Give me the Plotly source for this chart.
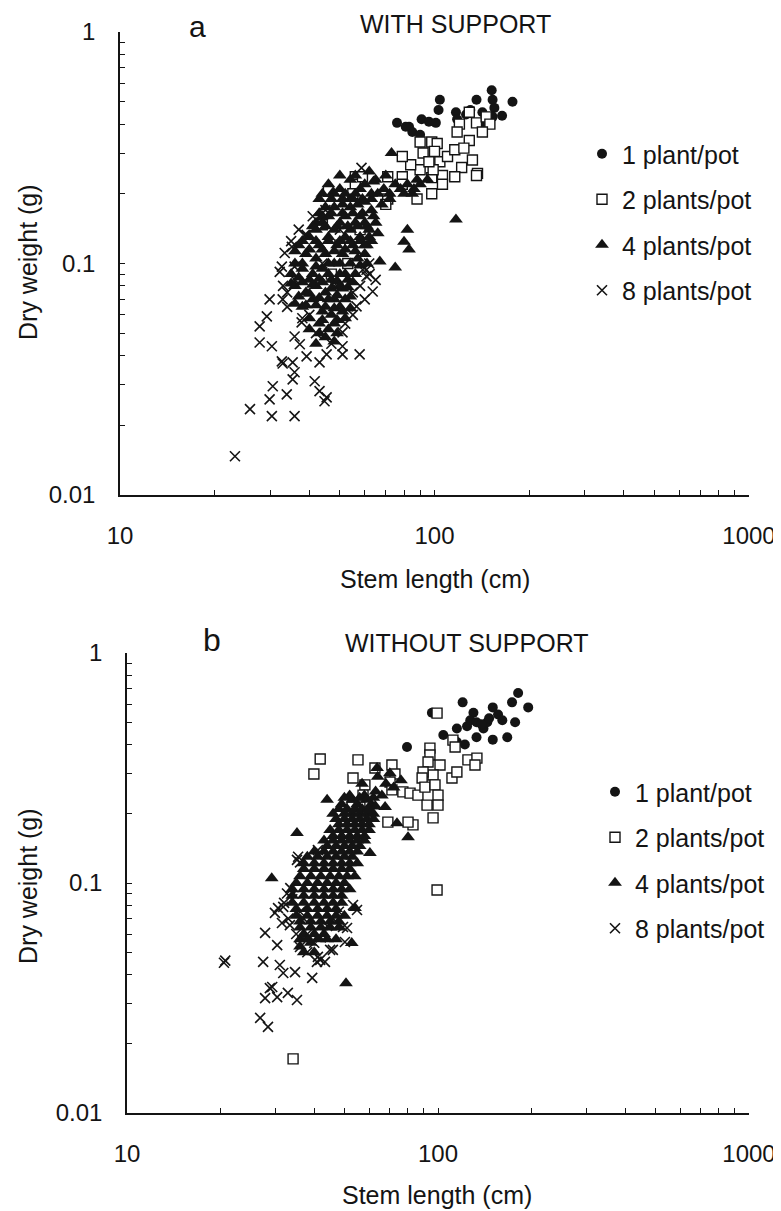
import plotly.graph_objects as go

# ---- data (stem length cm, dry weight g) ----
a_one = [(152, 0.56), (177, 0.50), (104, 0.51), (103, 0.46), (76, 0.405), (91, 0.42), (96, 0.41),
         (101, 0.405), (83, 0.39), (85, 0.37), (90, 0.36), (117, 0.45), (126, 0.44), (136, 0.51),
         (153, 0.51), (155, 0.47), (164, 0.435), (153, 0.43), (142, 0.45), (146, 0.43), (81, 0.39),
         (118, 0.42), (130, 0.46), (140, 0.40)]
a_two = [(129, 0.45), (120, 0.40), (118, 0.37), (129, 0.34), (136, 0.405), (146, 0.43), (90, 0.335),
         (98, 0.335), (102, 0.33), (92, 0.30), (100, 0.305), (104, 0.275), (110, 0.29), (116, 0.31),
         (124, 0.315), (132, 0.28), (122, 0.26), (137, 0.245), (116, 0.237), (106, 0.24), (98, 0.235),
         (106, 0.22), (98, 0.20), (88, 0.19), (90, 0.254), (84, 0.267), (79, 0.29), (79, 0.237),
         (79, 0.22), (71, 0.19), (70, 0.18), (56, 0.237), (56, 0.22), (55, 0.20), (59, 0.237),
         (46, 0.205), (44, 0.147), (99, 0.254), (96, 0.275), (71, 0.237), (136, 0.24), (150, 0.40),
         (142, 0.37), (50, 0.12), (53, 0.10), (47, 0.09), (58, 0.14)]
a_four = [(73, 0.30), (117, 0.155), (82, 0.14), (80, 0.124), (83, 0.115), (67, 0.102), (75, 0.096),
          (64, 0.226), (47.5, 0.202),
          (44, 0.2), (46, 0.22), (48, 0.2), (50, 0.21), (52, 0.2), (54, 0.19), (56, 0.2), (58, 0.21),
          (60, 0.22), (45, 0.175), (48, 0.175), (51, 0.18), (54, 0.175), (57, 0.18), (60, 0.185),
          (63, 0.19), (66, 0.2), (69, 0.21), (72, 0.2), (75, 0.22), (78, 0.21), (82, 0.22), (86, 0.21),
          (90, 0.22), (95, 0.23), (65, 0.23), (62, 0.25), (56, 0.24), (50, 0.24), (54, 0.23),
          (70, 0.24), (68, 0.18), (72, 0.19), (80, 0.2), (85, 0.2), (88, 0.23),
          (42, 0.15), (44, 0.16), (42, 0.14), (44, 0.15), (46, 0.16), (48, 0.14), (50, 0.15), (52, 0.16),
          (54, 0.14), (56, 0.15), (58, 0.16), (60, 0.15), (62, 0.14), (64, 0.16), (40, 0.13), (43, 0.12),
          (46, 0.13), (49, 0.12), (52, 0.13), (55, 0.12), (58, 0.13), (61, 0.12), (37, 0.12), (39, 0.11),
          (42, 0.105), (45, 0.11), (48, 0.1), (51, 0.11), (54, 0.1), (57, 0.105), (60, 0.11),
          (63, 0.125), (66, 0.135), (36, 0.1),
          (35, 0.09), (38, 0.095), (41, 0.09), (44, 0.095), (47, 0.085), (50, 0.09), (53, 0.085),
          (56, 0.09), (36, 0.08), (39, 0.075), (42, 0.08), (45, 0.075), (48, 0.07), (51, 0.078),
          (54, 0.072), (38, 0.065), (41, 0.07), (44, 0.062), (47, 0.06), (50, 0.065), (43, 0.055),
          (46, 0.052), (49, 0.057), (45, 0.048),
          (43, 0.19), (47, 0.19), (51, 0.19), (55, 0.19), (59, 0.19), (63, 0.2),
          (43, 0.165), (47, 0.165), (51, 0.165), (55, 0.165), (59, 0.165), (63, 0.17),
          (41, 0.145), (45, 0.145), (49, 0.145), (53, 0.145), (57, 0.145), (61, 0.145), (65, 0.15),
          (38, 0.125), (42, 0.125), (46, 0.125), (50, 0.125), (54, 0.125), (58, 0.125), (62, 0.13),
          (36, 0.113), (40, 0.115), (44, 0.115), (48, 0.113), (52, 0.115), (56, 0.113), (60, 0.12),
          (38, 0.1), (42, 0.097), (46, 0.1), (50, 0.1), (58, 0.098), (61, 0.1),
          (37, 0.087), (40, 0.085), (43, 0.086), (46, 0.09), (49, 0.084), (52, 0.09), (55, 0.083),
          (35, 0.082), (38, 0.083), (41, 0.081), (44, 0.083), (47, 0.078), (50, 0.08), (53, 0.079),
          (37, 0.072), (40, 0.074), (43, 0.071), (46, 0.07), (49, 0.073), (52, 0.07),
          (36, 0.067), (39, 0.066), (42, 0.066), (45, 0.065), (48, 0.064), (51, 0.062), (54, 0.064),
          (40, 0.058), (44, 0.057), (48, 0.055), (52, 0.058), (40, 0.052), (43, 0.05), (49, 0.05),
          (42, 0.045), (48, 0.046)]
a_eight = [(23.2, 0.0147), (25.9, 0.0235), (29.9, 0.0259), (30.4, 0.0219), (35.9, 0.0219),
           (33.9, 0.0272), (30.6, 0.0295), (35.4, 0.0374), (35.9, 0.0339), (35.4, 0.0316),
           (32.9, 0.037), (32.7, 0.0378), (30.4, 0.0439), (27.8, 0.0456), (27.8, 0.0535),
           (29.3, 0.0591), (29.9, 0.070), (32.9, 0.070), (33.4, 0.111), (35.2, 0.118), (32.7, 0.097),
           (39.2, 0.133), (38.7, 0.133), (32.2, 0.092), (35.9, 0.097), (41.6, 0.031), (43.1, 0.0281),
           (45.4, 0.0264), (44.7, 0.0254), (51.0, 0.0504), (51.0, 0.0439), (51.0, 0.0405),
           (57.8, 0.0405), (45.4, 0.0405), (43.1, 0.0374), (37.3, 0.0448), (37.8, 0.0557),
           (39.2, 0.0397), (35.9, 0.0484), (60.8, 0.088), (63.6, 0.0757), (56.5, 0.0653),
           (59.1, 0.094), (58.6, 0.259), (60.8, 0.094), (62.2, 0.090),
           (36, 0.085), (34, 0.075), (40, 0.06), (42, 0.05), (38, 0.058), (47, 0.045), (52, 0.055),
           (55, 0.06), (48, 0.08), (44, 0.1), (33, 0.08), (34, 0.065), (37, 0.14), (35, 0.125),
           (41, 0.16), (45, 0.17), (50, 0.14), (55, 0.075), (60, 0.07), (62, 0.1), (65, 0.085),
           (58, 0.08)]

b_one = [(181, 0.67), (173, 0.61), (195, 0.58), (177, 0.50), (120, 0.61), (130, 0.55), (150, 0.58),
         (156, 0.54), (161, 0.51), (150, 0.42), (167, 0.43), (140, 0.47), (133, 0.43), (124, 0.48),
         (115, 0.47), (104, 0.44), (115, 0.41), (122, 0.40), (79.5, 0.39), (95.6, 0.55), (127, 0.51),
         (133, 0.50), (144, 0.50), (138, 0.49), (146, 0.52)]
b_two = [(99.3, 0.548), (41.8, 0.346), (39.9, 0.298), (55.3, 0.343), (53.3, 0.286), (58.2, 0.267),
         (62.7, 0.316), (71.1, 0.326), (72.7, 0.298), (70.1, 0.275), (71.1, 0.254), (77.1, 0.249),
         (81.3, 0.246), (86.2, 0.241), (94.2, 0.386), (94.2, 0.36), (92.9, 0.336), (101.5, 0.326),
         (96.4, 0.295), (89.5, 0.304), (88.9, 0.286), (90.8, 0.261), (97.8, 0.267), (100, 0.241),
         (100, 0.218), (92.2, 0.218), (96.4, 0.192), (83.1, 0.179), (80.1, 0.184), (69, 0.184),
         (111.7, 0.418), (113.5, 0.39), (110.9, 0.286), (115, 0.304), (124.8, 0.343), (133.4, 0.349),
         (131.5, 0.326), (99.3, 0.0933), (57.4, 0.241), (52.9, 0.214), (57.4, 0.214), (60.4, 0.223),
         (34.2, 0.0172)]
b_four = [(35.2, 0.165), (29.2, 0.105), (52.8, 0.0548), (50.6, 0.0367), (80.1, 0.158), (63.7, 0.316),
          (60.4, 0.135), (54.1, 0.0778), (67.6, 0.214), (73.8, 0.182),
          (49, 0.22), (52, 0.24), (55, 0.22), (58, 0.24), (61, 0.22), (63, 0.25), (50, 0.2), (53, 0.2),
          (56, 0.2), (59, 0.2), (62, 0.2), (48, 0.18), (51, 0.18), (54, 0.18), (57, 0.18), (60, 0.18),
          (46, 0.16), (49, 0.16), (52, 0.16), (55, 0.16), (58, 0.16), (44, 0.145), (47, 0.145),
          (50, 0.145), (53, 0.145), (56, 0.145), (66, 0.24), (68, 0.27), (72, 0.26), (76, 0.28),
          (70, 0.3), (64, 0.29), (57, 0.27), (46, 0.2), (44, 0.23),
          (38, 0.13), (41, 0.13), (44, 0.13), (47, 0.13), (50, 0.13), (53, 0.13), (37, 0.115),
          (40, 0.115), (43, 0.115), (46, 0.115), (49, 0.115), (52, 0.115), (35, 0.1), (38, 0.1),
          (41, 0.1), (44, 0.1), (47, 0.1), (50, 0.1), (34, 0.088), (37, 0.088), (40, 0.088),
          (43, 0.088), (46, 0.088), (49, 0.088), (35, 0.077), (38, 0.077), (41, 0.077), (44, 0.077),
          (47, 0.077), (36, 0.068), (39, 0.068), (42, 0.068), (45, 0.068), (48, 0.068), (37, 0.06),
          (40, 0.06), (43, 0.06), (36, 0.053), (39, 0.055),
          (50, 0.235), (53, 0.23), (56, 0.235), (59, 0.23), (62, 0.235),
          (48, 0.21), (51, 0.21), (54, 0.21), (57, 0.21), (60, 0.21), (63, 0.215),
          (47, 0.19), (50, 0.19), (53, 0.19), (56, 0.19), (59, 0.19), (62, 0.19),
          (45, 0.17), (48, 0.17), (51, 0.17), (54, 0.17), (57, 0.17), (60, 0.17),
          (43, 0.153), (46, 0.153), (49, 0.153), (52, 0.153), (55, 0.153), (58, 0.153),
          (40, 0.137), (43, 0.137), (46, 0.137), (49, 0.137), (52, 0.137), (55, 0.137),
          (37, 0.122), (40, 0.122), (43, 0.122), (46, 0.122), (49, 0.122), (52, 0.122), (55, 0.122),
          (36, 0.107), (39, 0.107), (42, 0.107), (45, 0.107), (48, 0.107), (51, 0.107), (54, 0.107),
          (34, 0.094), (37, 0.094), (40, 0.094), (43, 0.094), (46, 0.094), (49, 0.094), (52, 0.094),
          (34, 0.082), (37, 0.082), (40, 0.082), (43, 0.082), (46, 0.082), (49, 0.082),
          (35, 0.072), (38, 0.072), (41, 0.072), (44, 0.072), (47, 0.072), (50, 0.072),
          (36, 0.064), (39, 0.064), (42, 0.064), (45, 0.064), (48, 0.064),
          (36, 0.057), (38, 0.057), (41, 0.057), (44, 0.057), (47, 0.057), (37, 0.05), (40, 0.05)]
b_eight = [(20.5, 0.045), (20.7, 0.046), (27.4, 0.0454), (26.8, 0.0259), (28.4, 0.0237),
           (27.8, 0.0316), (28.8, 0.0349), (30.4, 0.0319), (32.9, 0.0333), (35.2, 0.031),
           (31.8, 0.0406), (31.0, 0.044), (34.7, 0.041), (39.4, 0.0387), (40.8, 0.0454),
           (41.1, 0.0477), (43.3, 0.0454), (45.9, 0.0512), (27.8, 0.0607), (30.4, 0.0537),
           (29.9, 0.0741), (31.8, 0.0787), (31.5, 0.067), (33.4, 0.0656), (36.0, 0.0527),
           (35.2, 0.126), (35.5, 0.13), (41.1, 0.139), (50.2, 0.0554), (53.3, 0.0802),
           (54.9, 0.0763), (49.5, 0.0644), (29.3, 0.0353), (30.6, 0.0778), (41.8, 0.0463),
           (45, 0.0512), (51, 0.0637), (36.0, 0.123), (32.7, 0.09), (33.5, 0.095), (34, 0.085),
           (37, 0.07), (38, 0.06), (40, 0.055), (35, 0.06), (38, 0.05), (42, 0.058), (44, 0.065),
           (36, 0.075), (46, 0.07), (48, 0.075), (33, 0.07), (32, 0.082)]

group_names = ["1 plant/pot", "2 plants/pot", "4 plants/pot", "8 plants/pot"]
x_tick_text = {10: "10", 100: "100", 1000: "1000"}
y_tick_text = {0.01: "0.01", 0.1: "0.1", 1: "1"}

# page body has an 8px margin; all positions below are given in reference pixels
OFF = 8
W, H = 781 - OFF, 1211 - OFF
FONT = "Liberation Sans, Arial, sans-serif"
INK = "#141414"
FS = 25

styles = [
    dict(symbol="circle", size=10, color=INK, line=dict(width=0)),
    dict(symbol="square", size=10, color="white", line=dict(color=INK, width=1.4)),
    dict(symbol="triangle-up", size=12, color=INK, line=dict(width=0)),
    dict(symbol="x-thin-open", size=10, color=INK, line=dict(color=INK, width=1.6)),
]

fig = go.Figure()
panels = [("x", "y", "legend", [a_one, a_two, a_four, a_eight]),
          ("x2", "y2", "legend2", [b_one, b_two, b_four, b_eight])]
for xa, ya, leg, groups in panels:
    for i in range(4):
        pts = groups[i]
        fig.add_trace(go.Scatter(
            x=[p[0] for p in pts], y=[p[1] for p in pts], mode="markers",
            marker=styles[i], name=group_names[i], xaxis=xa, yaxis=ya,
            legend=leg, legendgroup=leg + str(i), legendrank=i + 1,
            hoverinfo="skip"))

x_ticks = [m * 10 ** e for e in (1, 2) for m in range(1, 10)] + [1000]
y_ticks = [round(m * 10.0 ** e, 3) for e in (-2, -1) for m in range(1, 10)] + [1]


def px_x(p):
    return (p - OFF) / W


def px_y(p):
    return 1 - (p - OFF) / H


def xaxis(left, right, anchor):
    return dict(type="log", range=[1, 3], domain=[px_x(left), px_x(right)], anchor=anchor,
                showline=True, linecolor=INK, linewidth=1.5, showgrid=False, zeroline=False,
                ticks="inside", ticklen=5, tickwidth=1, tickcolor=INK,
                tickvals=x_ticks, ticktext=[x_tick_text.get(v, "") for v in x_ticks],
                tickfont=dict(size=FS - 1, color=INK, family=FONT), ticklabelstandoff=18,
                automargin=False, fixedrange=True)


def yaxis(top, bottom, anchor):
    return dict(type="log", range=[-2, 0], domain=[px_y(bottom), px_y(top)], anchor=anchor,
                showline=True, linecolor=INK, linewidth=1.5, showgrid=False, zeroline=False,
                ticks="inside", ticklen=5, tickwidth=1, tickcolor=INK,
                tickvals=y_ticks, ticktext=[y_tick_text.get(v, "") for v in y_ticks],
                tickfont=dict(size=FS - 1, color=INK, family=FONT), ticklabelstandoff=18,
                automargin=False, fixedrange=True)


def legend(left, top):
    return dict(x=px_x(left), y=px_y(top), xanchor="left", yanchor="top",
                font=dict(size=FS, color=INK, family=FONT), bgcolor="rgba(0,0,0,0)",
                tracegroupgap=10, itemsizing="trace")


def text(s, x, y, size, angle=0, anchor="middle"):
    return dict(text=s, x=px_x(x), y=px_y(y), xref="paper", yref="paper", showarrow=False,
                textangle=angle, xanchor="center", yanchor=anchor,
                font=dict(size=size, color=INK, family=FONT))


fig.update_layout(
    width=W, height=H, template="none",
    margin=dict(l=0, r=0, t=0, b=0),
    paper_bgcolor="white", plot_bgcolor="white",
    xaxis=xaxis(120, 749, "y"),
    yaxis=yaxis(32, 495, "x"),
    xaxis2=xaxis(127, 749, "y2"),
    yaxis2=yaxis(653, 1113, "x2"),
    legend=legend(582, 131),
    legend2=legend(595, 769),
    annotations=[
        text("a", 197, 8.5, 30, anchor="top"), text("WITH SUPPORT", 455, 8.5, FS, anchor="top"),
        text("b", 212, 640, 32), text("WITHOUT SUPPORT", 467, 643, FS),
        text("Dry weight (g)", 28, 262, FS, -90), text("Dry weight (g)", 28, 886, FS, -90),
        text("Stem length (cm)", 435, 579, FS), text("Stem length (cm)", 437, 1195, FS),
    ],
)

fig.write_html("out.html")
